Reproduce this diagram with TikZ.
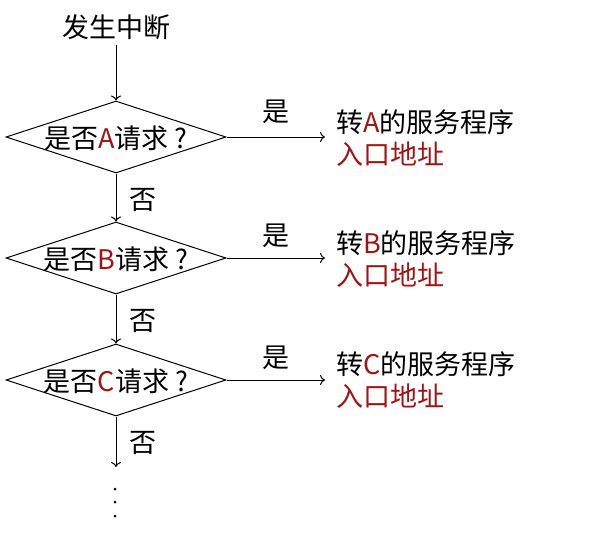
\documentclass[tikz,border=0pt]{standalone}
\usepackage{fontspec}
\setmainfont{Noto Sans CJK SC}
\usetikzlibrary{shapes.geometric,arrows.meta}
\definecolor{dred}{RGB}{160,20,20}
\tikzset{
  dia/.style={draw,shape=diamond,minimum width=220pt,minimum height=72pt,inner sep=0pt,line width=1pt},
  txt/.style={font=\fontsize{27}{32}\selectfont,inner sep=0pt},
  conn/.style={draw,line width=1pt,-{To[length=5pt,width=10pt]}},
  dotn/.style={circle,fill,inner sep=0pt,minimum size=3pt},
}
\begin{document}
\begin{tikzpicture}[x=1pt,y=-1pt]
\useasboundingbox (0,0) rectangle (592,558);
\node[txt] (start) at (116,27) {发生中断};
\node[dia] (dA) at (116,137) {};
\node[dia] (dB) at (116,258) {};
\node[dia] (dC) at (116,380) {};
\node[txt] (tA) at (116,138) {是否\textcolor{dred}{A}请求\hspace{6pt}?};
\node[txt] (tB) at (116,259) {是否\textcolor{dred}{B}请求\hspace{6pt}?};
\node[txt] (tC) at (116,381) {是否\textcolor{dred}{C}请求\hspace{6pt}?};
\node[txt,align=left,anchor=west] (rA) at (336,138) {转\textcolor{dred}{A}的服务程序\\\textcolor{dred}{入口地址}};
\node[txt,align=left,anchor=west] (rB) at (336,259) {转\textcolor{dred}{B}的服务程序\\\textcolor{dred}{入口地址}};
\node[txt,align=left,anchor=west] (rC) at (336,380) {转\textcolor{dred}{C}的服务程序\\\textcolor{dred}{入口地址}};
\coordinate (s0) at (116,45);
\coordinate (eA) at (325,137);
\coordinate (eB) at (325,258);
\coordinate (eC) at (325,380);
\coordinate (end) at (116,467);
\draw[conn] (s0) -- (dA.north);
\draw[conn] (dA.east) -- (eA);
\draw[conn] (dB.east) -- (eB);
\draw[conn] (dC.east) -- (eC);
\draw[conn] (dA.south) -- (dB.north);
\draw[conn] (dB.south) -- (dC.north);
\draw[conn] (dC.south) -- (end);
\node[txt] (yA) at (276,112) {是};
\node[txt] (yB) at (276,236) {是};
\node[txt] (yC) at (276,358) {是};
\node[txt] (nA) at (143,200) {否};
\node[txt] (nB) at (143,321) {否};
\node[txt] (nC) at (143,443) {否};
\node[dotn] (d1) at (115,489) {};
\node[dotn] (d2) at (115,502) {};
\node[dotn] (d3) at (115,516) {};
\end{tikzpicture}
\end{document}
